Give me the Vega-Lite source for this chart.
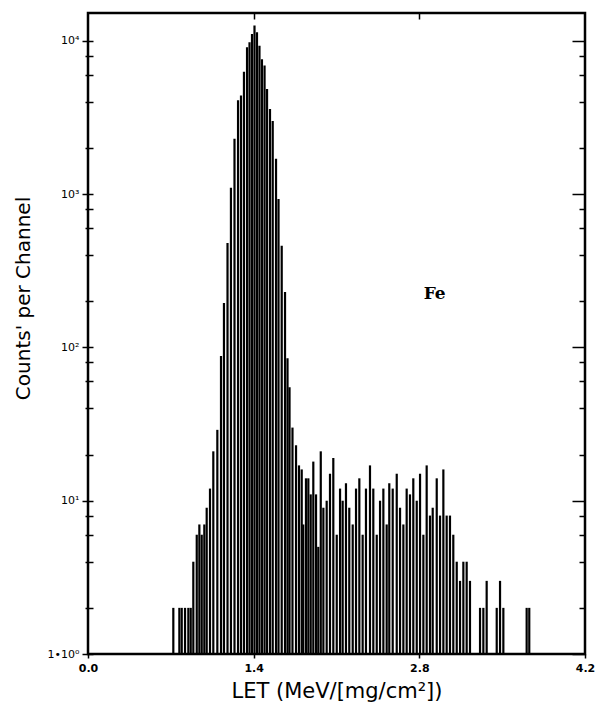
{
  "$schema": "https://vega.github.io/schema/vega-lite/v6.json",
  "width": 497,
  "height": 641,
  "autosize": "none",
  "padding": {"left": 88, "top": 13, "right": 11, "bottom": 53},
  "background": "white",
  "config": {
    "view": {"stroke": "black", "strokeWidth": 2.5},
    "axis": {"labelFont": "DejaVu Sans", "titleFont": "DejaVu Sans", "labelColor": "black", "titleColor": "black", "tickColor": "black", "domain": false, "grid": false, "labelOverlap": false, "labelBound": false, "labelFlush": false}
  },
  "layer": [
    {
      "data": {"values": [
        {"LET":0.721,"count":2},{"LET":0.772,"count":2},{"LET":0.792,"count":2},{"LET":0.820,"count":2},
        {"LET":0.848,"count":2},{"LET":0.868,"count":2},{"LET":0.890,"count":4},{"LET":0.919,"count":6},
        {"LET":0.941,"count":7},{"LET":0.961,"count":6},{"LET":0.983,"count":7},{"LET":1.003,"count":9},
        {"LET":1.031,"count":12},{"LET":1.059,"count":21},{"LET":1.093,"count":29},{"LET":1.124,"count":88},
        {"LET":1.149,"count":195},{"LET":1.179,"count":480},{"LET":1.208,"count":1100},{"LET":1.238,"count":2300},
        {"LET":1.268,"count":4100},{"LET":1.293,"count":4400},{"LET":1.318,"count":6300},{"LET":1.344,"count":9100},
        {"LET":1.365,"count":9800},{"LET":1.386,"count":11100},{"LET":1.407,"count":12600},{"LET":1.428,"count":11400},
        {"LET":1.449,"count":9300},{"LET":1.470,"count":7600},{"LET":1.492,"count":6900},{"LET":1.513,"count":4850},
        {"LET":1.538,"count":3600},{"LET":1.561,"count":3000},{"LET":1.589,"count":1700},{"LET":1.610,"count":930},
        {"LET":1.637,"count":460},{"LET":1.665,"count":230},{"LET":1.686,"count":85},{"LET":1.703,"count":55},
        {"LET":1.728,"count":30},{"LET":1.758,"count":23},{"LET":1.783,"count":17},{"LET":1.806,"count":16},
        {"LET":1.819,"count":7},{"LET":1.842,"count":14},{"LET":1.862,"count":14},{"LET":1.882,"count":11},
        {"LET":1.904,"count":18},{"LET":1.927,"count":11},{"LET":1.946,"count":5},{"LET":1.967,"count":21},
        {"LET":1.989,"count":9},{"LET":2.017,"count":10},{"LET":2.045,"count":15},{"LET":2.073,"count":19},
        {"LET":2.102,"count":6},{"LET":2.130,"count":12},{"LET":2.152,"count":10},{"LET":2.180,"count":13},
        {"LET":2.208,"count":9},{"LET":2.237,"count":7},{"LET":2.265,"count":12},{"LET":2.293,"count":14},
        {"LET":2.321,"count":6},{"LET":2.349,"count":12},{"LET":2.383,"count":17},{"LET":2.411,"count":12},
        {"LET":2.440,"count":6},{"LET":2.468,"count":10},{"LET":2.496,"count":12},{"LET":2.524,"count":7},
        {"LET":2.546,"count":13},{"LET":2.575,"count":12},{"LET":2.609,"count":15},{"LET":2.637,"count":9},
        {"LET":2.665,"count":7},{"LET":2.693,"count":12},{"LET":2.721,"count":11},{"LET":2.749,"count":14},
        {"LET":2.778,"count":10},{"LET":2.806,"count":15},{"LET":2.834,"count":6},{"LET":2.862,"count":17},
        {"LET":2.890,"count":8},{"LET":2.913,"count":9},{"LET":2.947,"count":14},{"LET":2.975,"count":8},
        {"LET":3.003,"count":16},{"LET":3.031,"count":8},{"LET":3.059,"count":8},{"LET":3.087,"count":6},
        {"LET":3.116,"count":4},{"LET":3.144,"count":3},{"LET":3.172,"count":4},{"LET":3.200,"count":4},
        {"LET":3.228,"count":3},{"LET":3.313,"count":2},{"LET":3.341,"count":2},{"LET":3.369,"count":3},
        {"LET":3.454,"count":2},{"LET":3.482,"count":3},{"LET":3.510,"count":2},{"LET":3.707,"count":2},
        {"LET":3.729,"count":2}
      ]},
      "mark": {"type": "rule", "color": "black", "strokeWidth": 2.2},
      "encoding": {
        "x": {
          "field": "LET", "type": "quantitative",
          "scale": {"domain": [0, 4.2], "nice": false, "zero": false},
          "axis": {
            "orient": "bottom", "values": [0, 1.4, 2.8, 4.2], "format": ".1f",
            "tickSize": 4, "tickWidth": 1.5, "labelFontSize": 11, "labelFontWeight": "bold", "labelPadding": 4,
            "title": "LET (MeV/[mg/cm²])", "titleFontSize": 21, "titleFontWeight": "normal", "titlePadding": 7
          }
        },
        "y": {
          "field": "count", "type": "quantitative",
          "scale": {"type": "log", "domain": [1, 15200], "nice": false},
          "axis": {
            "orient": "left",
            "values": [1,2,4,6,8,10,20,40,60,80,100,200,400,600,800,1000,2000,4000,6000,8000,10000],
            "labelExpr": "datum.value == 1 ? '1•10⁰' : datum.value == 10 ? '10¹' : datum.value == 100 ? '10²' : datum.value == 1000 ? '10³' : datum.value == 10000 ? '10⁴' : ''",
            "offset": -5,
            "tickSize": {"condition": {"test": "indexof([1,10,100,1000,10000], datum.value) >= 0", "value": 11}, "value": 8},
            "tickWidth": 1.5, "labelFontSize": 11, "labelPadding": 3,
            "title": "Counts' per Channel", "titleFontSize": 20, "titleFontWeight": "normal",
            "titlePadding": 14, "titleY": 285
          }
        },
        "y2": {"datum": 1}
      }
    },
    {
      "data": {"values": [{"LET": 2.93, "count": 222, "label": "Fe"}]},
      "mark": {"type": "text", "font": "DejaVu Serif", "fontWeight": "bold", "fontSize": 17, "color": "black"},
      "encoding": {
        "x": {
          "field": "LET", "type": "quantitative",
          "scale": {"domain": [0, 4.2], "nice": false, "zero": false},
          "axis": {"orient": "top", "values": [1.4, 2.8], "labels": false, "tickSize": -6, "tickWidth": 1.5, "title": null}
        },
        "y": {
          "field": "count", "type": "quantitative",
          "scale": {"type": "log", "domain": [1, 15200], "nice": false},
          "axis": {
            "orient": "right",
            "values": [1,2,4,6,8,10,20,40,60,80,100,200,400,600,800,1000,2000,4000,6000,8000,10000],
            "labels": false,
            "tickSize": {"condition": {"test": "indexof([1,10,100,1000,10000], datum.value) >= 0", "value": -13}, "value": -6},
            "tickWidth": 1.5, "title": null
          }
        },
        "text": {"field": "label"}
      }
    }
  ],
  "resolve": {"scale": {"x": "shared", "y": "shared"}, "axis": {"x": "independent", "y": "independent"}}
}
